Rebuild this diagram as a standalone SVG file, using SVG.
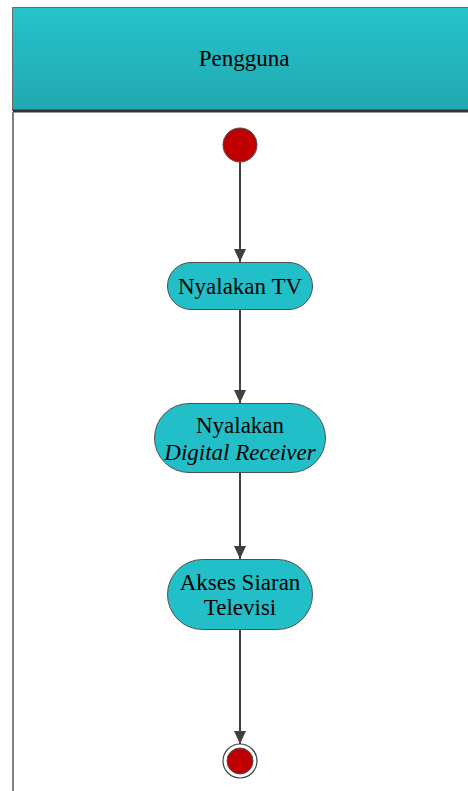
<svg xmlns="http://www.w3.org/2000/svg" width="468" height="791" viewBox="0 0 468 791">
  <defs>
    <linearGradient id="hdr" x1="0" y1="0" x2="0" y2="1">
      <stop offset="0" stop-color="#26c3cb"/>
      <stop offset="1" stop-color="#21a8b0"/>
    </linearGradient>
    <marker id="arrow" markerWidth="14" markerHeight="14" refX="13" refY="7" orient="auto" markerUnits="userSpaceOnUse">
      <path d="M0,1 L13,7 L0,13 Z" fill="#404040"/>
    </marker>
  </defs>
  <style>
    .lbl { font-family: "Liberation Serif", "Times New Roman", serif; font-size: 23px; fill: #000; text-anchor: middle; }
    .act { fill: #22bfc8; stroke: #505050; stroke-width: 1; }
    .edge { stroke: #404040; stroke-width: 2; fill: none; marker-end: url(#arrow); }
    .dot { fill: #c00000; stroke: #505050; stroke-width: 1; }
  </style>

  <rect width="468" height="791" fill="#ffffff"/>

  <!-- swimlane -->
  <g id="lane">
    <rect x="12.5" y="7.5" width="460" height="103" fill="url(#hdr)" stroke="#6a6a6a" stroke-width="1"/>
    <line x1="13" y1="111" x2="468" y2="111" stroke="#333333" stroke-width="3"/>
    <line x1="13" y1="112" x2="13" y2="791" stroke="#808080" stroke-width="2"/>
    <text class="lbl" x="244" y="66">Pengguna</text>
  </g>

  <!-- connectors -->
  <g id="connectors">
    <line class="edge" x1="240" y1="162" x2="240" y2="262"/>
    <line class="edge" x1="240" y1="310" x2="240" y2="403"/>
    <line class="edge" x1="240" y1="473" x2="240" y2="559"/>
    <line class="edge" x1="240" y1="630" x2="240" y2="744"/>
  </g>

  <g id="start">
    <circle class="dot" cx="240" cy="145" r="17"/>
  </g>

  <g id="nyalakan-tv">
    <rect class="act" x="167.5" y="262.5" width="145" height="47" rx="23.5"/>
    <text class="lbl" x="240" y="294">Nyalakan TV</text>
  </g>

  <g id="nyalakan-receiver">
    <rect class="act" x="154.5" y="403.5" width="171" height="69" rx="34.5"/>
    <text class="lbl" x="240" y="433">Nyalakan</text>
    <text class="lbl" x="240" y="460" font-style="italic">Digital Receiver</text>
  </g>

  <g id="akses-siaran">
    <rect class="act" x="167.5" y="559.5" width="145" height="70" rx="35"/>
    <text class="lbl" x="240" y="590">Akses Siaran</text>
    <text class="lbl" x="240" y="615">Televisi</text>
  </g>

  <g id="end">
    <circle cx="240" cy="761" r="17" fill="#ffffff" stroke="#404040" stroke-width="1.2"/>
    <circle class="dot" cx="240" cy="761" r="13"/>
  </g>
</svg>
